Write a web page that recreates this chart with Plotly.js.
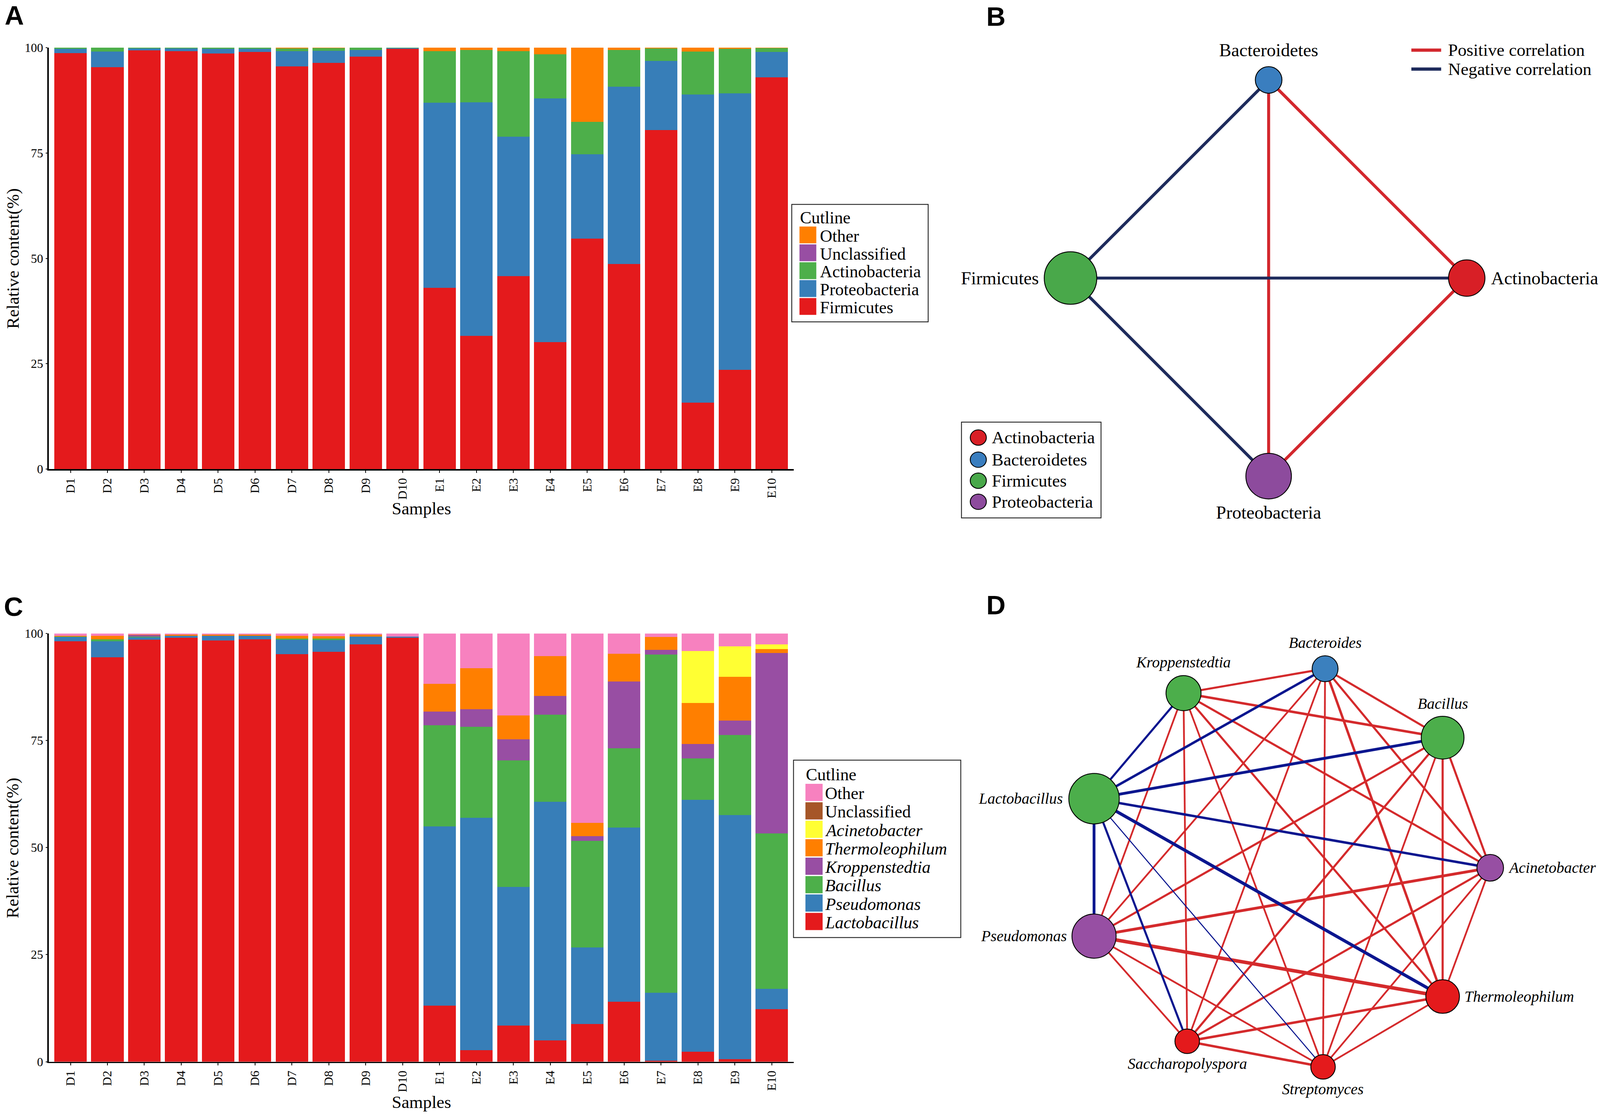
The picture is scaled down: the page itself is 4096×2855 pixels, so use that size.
<!DOCTYPE html>
<html><head><meta charset="utf-8">
<script src="https://cdn.plot.ly/plotly-3.0.1.min.js"></script>
<style>html,body{margin:0;padding:0;background:#fff;} #chart{width:4096px;height:2855px;}</style>
</head><body><div id="chart"></div>
<script>
// ================= DATA =================
const samples = ['D1','D2','D3','D4','D5','D6','D7','D8','D9','D10','E1','E2','E3','E4','E5','E6','E7','E8','E9','E10'];

// Panel A – phylum level relative content (%), bottom to top
const phylumNames = ['Firmicutes','Proteobacteria','Actinobacteria','Unclassified','Other'];
const firmicutes     = [98.7,95.4,99.4,99.2,98.6,99.0,95.6,96.4,97.9,99.7, 43.0,31.6,45.8,30.1,54.7,48.7,80.5,15.8,23.6,93.0];
const proteobacteria = [1.0,3.7,0.4,0.6,1.1,0.7,3.6,2.9,1.6,0.2, 43.9,55.4,33.1,57.9,20.0,42.0,16.4,73.1,65.6,6.0];
const actinobacteria = [0.3,0.9,0.2,0.2,0.3,0.3,0.6,0.6,0.5,0.1, 12.3,12.5,20.3,10.4,7.7,8.8,2.9,10.2,10.5,0.9];
const unclassifiedA  = [0,0,0,0,0,0,0,0,0,0, 0,0,0,0,0,0,0,0,0,0];
const otherA         = [0,0,0,0,0,0,0.2,0.1,0,0, 0.8,0.5,0.8,1.6,17.6,0.5,0.2,0.9,0.3,0.1];

// Panel C – genus level relative content (%), bottom to top
const genusNames = ['Lactobacillus','Pseudomonas','Bacillus','Kroppenstedtia','Thermoleophilum','Acinetobacter','Unclassified','Other'];
const genusItalic = [true,true,true,true,true,true,false,false];
const lactobacillus   = [98.2,94.5,98.6,99.0,98.4,98.7,95.2,95.7,97.5,99.0, 13.1,2.7,8.4,5.0,8.8,14.0,0.2,2.3,0.6,12.3];
const pseudomonas     = [1.0,3.7,0.5,0.5,1.1,0.8,3.4,2.8,1.8,0.3, 41.9,54.3,32.4,55.7,17.9,40.7,15.9,58.9,57.0,4.7];
const bacillus        = [0.1,0.5,0.2,0,0,0,0.2,0.3,0,0, 23.6,21.2,29.6,20.4,24.9,18.5,79.0,9.6,18.7,36.3];
const kroppenstedtia  = [0,0,0.4,0,0,0,0,0,0,0, 3.2,4.1,4.9,4.3,1.1,15.6,1.1,3.4,3.4,42.2];
const thermoleophilum = [0.2,0.8,0.1,0.3,0.3,0.3,0.7,0.6,0.5,0, 6.5,9.6,5.6,9.3,3.1,6.5,3.0,9.6,10.2,0.9];
const acinetobacter   = [0,0,0,0,0,0,0,0,0,0, 0,0,0,0,0,0,0,12.1,7.1,1.1];
const unclassifiedC   = [0,0,0,0,0,0,0,0,0,0, 0,0,0,0,0,0,0,0,0,0];
const otherC          = [0.5,0.5,0.2,0.2,0.2,0.2,0.5,0.6,0.2,0.7, 11.7,8.1,19.1,5.3,44.2,4.7,0.8,4.1,3.0,2.5];

// Panel B – phylum correlation network
const nodesB = ['Actinobacteria','Bacteroidetes','Firmicutes','Proteobacteria'];
const nodeBX = [1, 0, -1, 0];
const nodeBY = [0, 1, 0, -1];
const edgesBFrom = ['Bacteroidetes','Bacteroidetes','Bacteroidetes','Firmicutes','Firmicutes','Actinobacteria'];
const edgesBTo   = ['Firmicutes','Actinobacteria','Proteobacteria','Actinobacteria','Proteobacteria','Proteobacteria'];
const edgesBSign = [-1, 1, 1, -1, -1, 1];

// Panel D – genus correlation network
const nodesD = ['Bacteroides','Kroppenstedtia','Bacillus','Lactobacillus','Acinetobacter','Pseudomonas','Thermoleophilum','Saccharopolyspora','Streptomyces'];
const nodeDX = [0.162,-0.534,0.740,-0.974,0.974,-0.974,0.740,-0.516,0.152];
const nodeDY = [0.979,0.859,0.640,0.340,0.000,-0.336,-0.633,-0.853,-0.979];
const edgesDFrom = ['Bacteroides','Bacteroides','Bacteroides','Bacteroides','Bacteroides','Bacteroides','Bacteroides',
  'Kroppenstedtia','Kroppenstedtia','Kroppenstedtia','Kroppenstedtia','Kroppenstedtia','Kroppenstedtia',
  'Bacillus','Bacillus','Bacillus','Bacillus','Bacillus',
  'Acinetobacter','Acinetobacter','Acinetobacter','Acinetobacter',
  'Pseudomonas','Pseudomonas','Pseudomonas',
  'Saccharopolyspora','Saccharopolyspora','Streptomyces',
  'Lactobacillus','Lactobacillus','Lactobacillus','Lactobacillus','Lactobacillus','Lactobacillus','Lactobacillus','Lactobacillus'];
const edgesDTo = ['Kroppenstedtia','Bacillus','Acinetobacter','Thermoleophilum','Streptomyces','Saccharopolyspora','Pseudomonas',
  'Bacillus','Acinetobacter','Thermoleophilum','Streptomyces','Saccharopolyspora','Pseudomonas',
  'Acinetobacter','Thermoleophilum','Streptomyces','Saccharopolyspora','Pseudomonas',
  'Thermoleophilum','Streptomyces','Saccharopolyspora','Pseudomonas',
  'Thermoleophilum','Saccharopolyspora','Streptomyces',
  'Thermoleophilum','Streptomyces','Thermoleophilum',
  'Kroppenstedtia','Bacteroides','Bacillus','Acinetobacter','Thermoleophilum','Pseudomonas','Saccharopolyspora','Streptomyces'];
const edgesDSign = [1,1,1,1,1,1,1, 1,1,1,1,1,1, 1,1,1,1,1, 1,1,1,1, 1,1,1, 1,1,1, -1,-1,-1,-1,-1,-1,-1,-1];
const edgesDStrength = [6,6,6,7,5,5,5, 7,6,6,5,5,5, 6,6,5,6,6, 5,5,6,8, 10,5,5, 7,7,5, 6,7,8,7,9,8,6,3];

// ================= STYLE / GEOMETRY =================
const W = 4563, H = 3180, K = 0.897;
const px = x => x / W, py = y => 1 - y / H, f = s => s * K;
const SERIF = '"Liberation Serif", "Times New Roman", Times, serif';
const SANS = '"Liberation Sans", Arial, Helvetica, sans-serif';

const colA = {Firmicutes:'#e41a1c', Proteobacteria:'#377eb8', Actinobacteria:'#4daf4a', Unclassified:'#984ea3', Other:'#ff7f00'};
const colC = {Lactobacillus:'#e41a1c', Pseudomonas:'#377eb8', Bacillus:'#4daf4a', Kroppenstedtia:'#984ea3',
              Thermoleophilum:'#ff7f00', Acinetobacter:'#ffff33', Unclassified:'#a65628', Other:'#f781bf'};
const nodeBColor = ['#d81f26','#3a7ebf','#49a84a','#8d4b9d'];
const nodeBRadius = [52, 38, 75, 65];               // reference px
const nodeBLabelSide = ['right','top','left','bottom'];
const nodeBLabelOff = [67, 85, 89, 104];
const nodeDColor = ['#3b80be','#4cae4b','#4cae4b','#4cae4b','#974fa3','#974fa3','#e41a1c','#e41a1c','#e41a1c'];
const nodeDRadius = [37, 50, 61, 72, 38, 63, 48, 35, 35];
const nodeDLabelSide = ['top','top','top','left','right','left','right','bottom','bottom'];
const nodeDLabelOff = [74, 88, 97, 87, 49, 75, 60, 64, 64];

const traces = [];
const shapes = [];
const annotations = [];

// ---------- bar panels ----------
const seriesA = [firmicutes, proteobacteria, actinobacteria, unclassifiedA, otherA];
phylumNames.forEach((n, i) => traces.push({
  type:'bar', x:samples, y:seriesA[i], name:n, xaxis:'x', yaxis:'y',
  marker:{color:colA[n], line:{width:0}}, hoverinfo:'x+y+name'
}));
const seriesC = [lactobacillus, pseudomonas, bacillus, kroppenstedtia, thermoleophilum, acinetobacter, unclassifiedC, otherC];
genusNames.forEach((n, i) => traces.push({
  type:'bar', x:samples, y:seriesC[i], name:n, xaxis:'x2', yaxis:'y2',
  marker:{color:colC[n], line:{width:0}}, hoverinfo:'x+y+name'
}));

function xAx(anchor) {
  return {domain:[px(139), px(2264)], anchor:anchor, type:'category', range:[-0.59, 19.6],
    tickangle:-90, ticks:'outside', ticklen:f(7), tickwidth:2, tickcolor:'#000',
    showline:true, linewidth:f(4), linecolor:'#000', showgrid:false, zeroline:false,
    tickfont:{family:SERIF, size:f(36), color:'#000'}, fixedrange:true};
}
function yAx(y0, y1, anchor) {
  return {domain:[py(y1), py(y0)], anchor:anchor, range:[0,100], tickvals:[0,25,50,75,100],
    ticks:'outside', ticklen:f(5), tickwidth:2, tickcolor:'#000', showline:true, linewidth:f(4), linecolor:'#000',
    showgrid:false, zeroline:false, tickfont:{family:SERIF, size:f(35), color:'#000'}, fixedrange:true};
}

// axis titles
[[737, 1450],[2418, 3143]].forEach(([yc, ys]) => {
  annotations.push({xref:'paper', yref:'paper', x:px(36), y:py(yc), text:'Relative content(%)', textangle:-90,
    showarrow:false, xanchor:'center', yanchor:'middle', font:{family:SERIF, size:f(50), color:'#000'}});
  annotations.push({xref:'paper', yref:'paper', x:px(1202), y:py(ys), text:'Samples',
    showarrow:false, xanchor:'center', yanchor:'middle', font:{family:SERIF, size:f(50), color:'#000'}});
});

// manual legends for bar panels
function barLegend(names, colors, italic, box, titleX, titleY, firstY, step, sw, textX) {
  shapes.push({type:'rect', xref:'paper', yref:'paper', x0:px(box[0]), x1:px(box[1]), y0:py(box[3]), y1:py(box[2]),
    line:{color:'#222', width:f(2.5)}, fillcolor:'rgba(0,0,0,0)'});
  annotations.push({xref:'paper', yref:'paper', x:px(titleX), y:py(titleY), text:'Cutline', showarrow:false,
    xanchor:'left', yanchor:'middle', borderpad:0, font:{family:SERIF, size:f(49), color:'#000'}});
  const order = names.slice().reverse();
  const ital = italic.slice().reverse();
  order.forEach((n, i) => {
    const yc = firstY + i * step;
    shapes.push({type:'rect', xref:'paper', yref:'paper', x0:px(titleX), x1:px(titleX + sw),
      y0:py(yc - 3 + sw / 2), y1:py(yc - 3 - sw / 2), line:{width:0}, fillcolor:colors[n]});
    annotations.push({xref:'paper', yref:'paper', x:px(textX), y:py(yc), text: ital[i] ? '<i>' + n + '</i>' : n,
      showarrow:false, xanchor:'left', yanchor:'middle', borderpad:0, font:{family:SERIF, size:f(49), color:'#000'}});
  });
}
barLegend(phylumNames, colA, phylumNames.map(() => false), [2258, 2647, 583, 918], 2280, 621, 673, 51, 48, 2337);
barLegend(genusNames, colC, genusItalic, [2263, 2740, 2168, 2674], 2297, 2209, 2263, 52.6, 49, 2352);

// ---------- networks ----------
function netAxes(dom, center, unit) {
  const xa = {domain:[px(dom[0]), px(dom[1])], range:[(dom[0] - center[0]) / unit, (dom[1] - center[0]) / unit],
    visible:false, fixedrange:true, showgrid:false, zeroline:false};
  const ya = {domain:[py(dom[3]), py(dom[2])], range:[(center[1] - dom[3]) / unit, (center[1] - dom[2]) / unit],
    visible:false, fixedrange:true, showgrid:false, zeroline:false};
  return [xa, ya];
}
const [xB, yB] = netAxes([2700, 4563, 0, 1520], [3618, 793], 565);
const [xD, yD] = netAxes([2750, 4563, 1680, 3180], [3685, 2475], 580);
xB.anchor = 'y3'; yB.anchor = 'x3'; xD.anchor = 'y4'; yD.anchor = 'x4';

function network(nodes, nx, ny, from, to, sign, strength, ax, ay, posCol, negCol, colors, radius, side, off, fontSize, italic) {
  from.forEach((a, i) => {
    const p = nodes.indexOf(a), q = nodes.indexOf(to[i]);
    traces.push({type:'scatter', mode:'lines', x:[nx[p], nx[q]], y:[ny[p], ny[q]], xaxis:ax, yaxis:ay,
      line:{color: sign[i] > 0 ? posCol : negCol, width: f(strength[i])}, hoverinfo:'skip', showlegend:false});
  });
  traces.push({type:'scatter', mode:'markers', x:nx, y:ny, text:nodes, xaxis:ax, yaxis:ay, hoverinfo:'text',
    marker:{color:colors, opacity:1, size:radius.map(r => f(2 * r)), line:{color:'#000', width:f(2.5)}}, showlegend:false});
  nodes.forEach((n, i) => {
    const a = {xref:ax, yref:ay, x:nx[i], y:ny[i], text: italic ? '<i>' + n + '</i>' : n, showarrow:false,
      font:{family:SERIF, size:f(fontSize), color:'#000'}, xanchor:'center', yanchor:'middle'};
    if (side[i] === 'top') a.yshift = f(off[i]);
    if (side[i] === 'bottom') a.yshift = -f(off[i]);
    if (side[i] === 'left') { a.xanchor = 'right'; a.xshift = -f(off[i]); }
    if (side[i] === 'right') { a.xanchor = 'left'; a.xshift = f(off[i]); }
    annotations.push(a);
  });
}
network(nodesB, nodeBX, nodeBY, edgesBFrom, edgesBTo, edgesBSign, edgesBSign.map(() => 8.5), 'x3', 'y3',
  '#d3272d', '#1e2b5c', nodeBColor, nodeBRadius, nodeBLabelSide, nodeBLabelOff, 52, false);
network(nodesD, nodeDX, nodeDY, edgesDFrom, edgesDTo, edgesDSign, edgesDStrength, 'x4', 'y4',
  '#d42a2c', '#0b168f', nodeDColor, nodeDRadius, nodeDLabelSide, nodeDLabelOff, 44, true);

// panel B edge legend
[['Positive correlation', '#d3272d', 143], ['Negative correlation', '#1e2b5c', 197]].forEach(([t, c, y]) => {
  shapes.push({type:'line', xref:'paper', yref:'paper', x0:px(4025), x1:px(4110), y0:py(y), y1:py(y), line:{color:c, width:f(9)}});
  annotations.push({xref:'paper', yref:'paper', x:px(4129), y:py(y), text:t, showarrow:false, xanchor:'left', yanchor:'middle',
    borderpad:0, font:{family:SERIF, size:f(50), color:'#000'}});
});
// panel B node legend
shapes.push({type:'rect', xref:'paper', yref:'paper', x0:px(2742), x1:px(3140), y0:py(1477), y1:py(1204),
  line:{color:'#222', width:f(2.5)}, fillcolor:'rgba(0,0,0,0)'});
[1248, 1311, 1371, 1431].forEach((y, i) => {
  shapes.push({type:'circle', xref:'paper', yref:'paper', xsizemode:'pixel', ysizemode:'pixel',
    xanchor:px(2790), yanchor:py(y), x0:-f(23), x1:f(23), y0:-f(22), y1:f(22),
    fillcolor:nodeBColor[i], line:{color:'#000', width:f(2.5)}});
  annotations.push({xref:'paper', yref:'paper', x:px(2827), y:py(y), text:nodesB[i], showarrow:false,
    xanchor:'left', yanchor:'middle', borderpad:0, font:{family:SERIF, size:f(50), color:'#000'}});
});

// panel letters
[['A', 41, 43], ['B', 2840, 47], ['C', 38, 1730], ['D', 2840, 1725]].forEach(([t, x, y]) => {
  annotations.push({xref:'paper', yref:'paper', x:px(x), y:py(y), text:'<b>' + t + '</b>', showarrow:false,
    xanchor:'center', yanchor:'middle', font:{family:SANS, size:f(76), color:'#000'}});
});

const layout = {
  width:4096, height:2855, margin:{l:0, r:0, t:0, b:0, pad:0},
  paper_bgcolor:'#ffffff', plot_bgcolor:'rgba(0,0,0,0)', showlegend:false,
  barmode:'stack', bargap:0.12, font:{family:SERIF, color:'#000'},
  xaxis: xAx('y'), yaxis: yAx(136, 1338, 'x'),
  xaxis2: xAx('y2'), yaxis2: yAx(1807, 3028, 'x2'),
  xaxis3: xB, yaxis3: yB, xaxis4: xD, yaxis4: yD,
  shapes: shapes, annotations: annotations
};
Plotly.newPlot('chart', traces, layout, {staticPlot:true, displayModeBar:false});
</script>
</body></html>
